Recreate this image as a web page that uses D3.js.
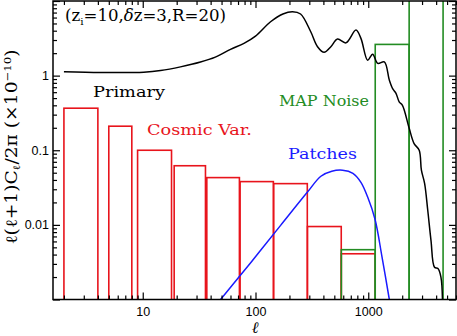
<!DOCTYPE html>
<html>
<head>
<meta charset="utf-8">
<script src="https://cdn.jsdelivr.net/npm/d3@7"></script>
<style>
  body { margin: 0; background: #fff; }
  svg { display: block; }
</style>
</head>
<body>
<div id="chart"></div>
<script>
// primary CMB spectrum (l, l(l+1)Cl/2pi in 1e-10)
var primaryL = [2, 4.2, 7.8, 10.2, 14.4, 21.6, 32.5, 44, 60, 79, 100, 136, 175, 213, 251, 309, 355, 406, 466, 534, 634, 778, 861, 988, 1094, 1213, 1388, 1538, 1645, 1762, 1880, 2010, 2300, 2550, 2830, 2960, 3160, 3370, 3600, 3870, 4150, 4410, 4550];
var primaryC = [1.13, 1.10, 1.10, 1.11, 1.17, 1.31, 1.52, 1.77, 2.25, 2.71, 3.39, 5.27, 6.7, 7.18, 6.69, 3.87, 2.44, 2.05, 2.44, 3.09, 2.75, 4.08, 3.16, 1.61, 1.94, 1.46, 1.53, 0.87, 0.67, 0.58, 0.445, 0.40, 0.20, 0.123, 0.10, 0.054, 0.036, 0.0157, 0.0062, 0.0027, 0.0026, 0.002, 0.001];

// patchy reionization signal
var patchL = [49, 91, 167, 289, 380, 475, 592, 731, 861, 988, 1148, 1325, 1538];
var patchC = [0.001, 0.00314, 0.00985, 0.0275, 0.0448, 0.0523, 0.054, 0.0491, 0.0372, 0.0236, 0.0119, 0.0037, 0.001];

// cosmic variance bins
var cvLo = [2, 5, 9, 19, 37, 73, 145, 289, 577];
var cvHi = [4, 8, 18, 36, 72, 144, 288, 576, 1152];
var cvTop = [0.366, 0.21, 0.1, 0.062, 0.043, 0.038, 0.0357, 0.0095, 0.0041];

// MAP noise bins
var noiseLo = [577, 1153, 2305];
var noiseHi = [1152, 2304, 4608];
var noiseTop = [0.00465, 2.62, 100];

var xLabels = [10, 100, 1000];
var yLabels = [0.01, 0.1, 1];

var svgWidth = 457, svgHeight = 336;
var margin = {top: 1, right: 1, bottom: 36.5, left: 53};
var pLeft = margin.left, pRight = svgWidth - margin.right;
var pTop = margin.top, pBottom = svgHeight - margin.bottom;

var red = '#e8141c', green = '#238c23', blue = '#1a1aff';

var svg = d3.select('#chart').append('svg')
    .attr('width', svgWidth)
    .attr('height', svgHeight);

var x = d3.scaleLog().domain([1.6, 6000]).range([pLeft, pRight]);
var y = d3.scaleLog().domain([0.001, 10]).range([pBottom, pTop]);

svg.append('clipPath').attr('id', 'clip')
  .append('rect').attr('x', pLeft).attr('y', pTop)
  .attr('width', pRight - pLeft).attr('height', pBottom - pTop);

var plot = svg.append('g').attr('clip-path', 'url(#clip)');

// tick values: every integer multiple inside each decade
function logTicks(lo, hi) {
    var out = [];
    for (var e = Math.floor(Math.log10(lo)); e <= Math.ceil(Math.log10(hi)); e++) {
        for (var m = 1; m < 10; m++) {
            var v = +(m * Math.pow(10, e)).toPrecision(6);
            if (v >= lo && v <= hi) out.push(v);
        }
    }
    return out;
}
function isMajor(v) { return Math.abs(Math.log10(v) - Math.round(Math.log10(v))) < 1e-6; }

var xt = logTicks(1.6, 6000), yt = logTicks(0.001, 10);

// shorten minor ticks, keep the direction d3 gave them
function styleAxis(g, horizontal) {
    g.select('.domain').remove();
    g.selectAll('.tick line').attr('stroke', '#000').attr('stroke-width', 1.2);
    g.selectAll('.tick').each(function(d) {
        var ln = d3.select(this).select('line');
        var attr = horizontal ? 'y2' : 'x2';
        var k = +ln.attr(attr);
        ln.attr(attr, Math.sign(k) * (isMajor(d) ? 7 : 4));
    });
    g.selectAll('.tick text').attr('fill', '#000');
}

var tickFont = '"Liberation Sans", Arial, sans-serif';

svg.append('g')
    .attr('transform', 'translate(0,' + pBottom + ')')
    .call(d3.axisBottom(x).tickValues(xt).tickSize(-7).tickPadding(8)
        .tickFormat(function(d) { return xLabels.indexOf(d) >= 0 ? d3.format('d')(d) : ''; }))
    .call(styleAxis, true)
    .selectAll('text').style('font', '12.5px ' + tickFont);

svg.append('g')
    .attr('transform', 'translate(0,' + pTop + ')')
    .call(d3.axisTop(x).tickValues(xt).tickSize(-7).tickFormat(''))
    .call(styleAxis, true);

svg.append('g')
    .attr('transform', 'translate(' + pLeft + ',0)')
    .call(d3.axisLeft(y).tickValues(yt).tickSize(-7).tickPadding(4)
        .tickFormat(function(d) { return yLabels.indexOf(d) >= 0 ? String(d) : ''; }))
    .call(styleAxis, false)
    .selectAll('text').style('font', '12.5px ' + tickFont);

svg.append('g')
    .attr('transform', 'translate(' + pRight + ',0)')
    .call(d3.axisRight(y).tickValues(yt).tickSize(-7).tickFormat(''))
    .call(styleAxis, false);

// cosmic variance boxes
plot.selectAll('rect.cv')
    .data(cvLo)
    .enter().append('rect')
    .attr('class', 'cv')
    .attr('x', function(d) { return x(d); })
    .attr('width', function(d, i) { return x(cvHi[i]) - x(d); })
    .attr('y', function(d, i) { return y(cvTop[i]); })
    .attr('height', function(d, i) { return pBottom + 2 - y(cvTop[i]); })
    .attr('fill', 'none').attr('stroke', red).attr('stroke-width', 1.6);

// MAP noise boxes
plot.selectAll('rect.noise')
    .data(noiseLo)
    .enter().append('rect')
    .attr('class', 'noise')
    .attr('x', function(d) { return x(d); })
    .attr('width', function(d, i) { return x(noiseHi[i]) - x(d); })
    .attr('y', function(d, i) { return y(noiseTop[i]); })
    .attr('height', function(d, i) { return pBottom + 2 - y(noiseTop[i]); })
    .attr('fill', 'none').attr('stroke', green).attr('stroke-width', 1.6);

var line = d3.line()
    .x(function(d) { return x(d[0]); })
    .y(function(d) { return y(d[1]); })
    .curve(d3.curveCatmullRom.alpha(0.5));

plot.append('path')
    .datum(patchL.map(function(l, i) { return [l, patchC[i]]; }))
    .attr('d', line)
    .attr('fill', 'none').attr('stroke', blue).attr('stroke-width', 1.5);

plot.append('path')
    .datum(primaryL.map(function(l, i) { return [l, primaryC[i]]; }))
    .attr('d', line)
    .attr('fill', 'none').attr('stroke', '#000').attr('stroke-width', 1.5);

// frame
svg.append('rect')
    .attr('x', pLeft).attr('y', pTop)
    .attr('width', pRight - pLeft).attr('height', pBottom - pTop)
    .attr('fill', 'none').attr('stroke', '#000').attr('stroke-width', 1.5);

// labels
var serif = '"DejaVu Serif", "Liberation Serif", serif';
function label(txt, px, py, col, len) {
    svg.append('text')
        .attr('x', px).attr('y', py)
        .attr('fill', col)
        .attr('textLength', len).attr('lengthAdjust', 'spacingAndGlyphs')
        .style('font', '15px ' + serif)
        .text(txt);
}
label('Primary', 93, 97, '#000', 72);
label('Cosmic Var.', 147, 135, red, 105);
label('MAP Noise', 279, 106, green, 90);
label('Patches', 288, 159, blue, 69);

var ttl = svg.append('text')
    .attr('x', 65).attr('y', 21)
    .attr('fill', '#000')
    .attr('textLength', 161).attr('lengthAdjust', 'spacingAndGlyphs')
    .style('font', '16px ' + serif);
ttl.append('tspan').text('(z');
ttl.append('tspan').attr('dy', 4).style('font-size', '10px').text('i');
ttl.append('tspan').attr('dy', -4).text('=10,');
ttl.append('tspan').style('font-style', 'italic').text('δ');
ttl.append('tspan').text('z=3,R=20)');

svg.append('text')
    .attr('x', 255).attr('y', 333)
    .attr('text-anchor', 'middle')
    .style('font', 'italic 16px ' + serif)
    .text('ℓ');

var yt2 = svg.append('text')
    .attr('transform', 'translate(17,147) rotate(-90)')
    .attr('text-anchor', 'middle')
    .attr('fill', '#000')
    .attr('textLength', 195).attr('lengthAdjust', 'spacingAndGlyphs')
    .style('font', '16px ' + serif);
yt2.append('tspan').text('ℓ(ℓ+1)C');
yt2.append('tspan').attr('dy', 3).style('font-size', '10px').text('ℓ');
yt2.append('tspan').attr('dy', -3).text('/2π  (×10');
yt2.append('tspan').attr('dy', -6).style('font-size', '10px').text('−10');
yt2.append('tspan').attr('dy', 6).text(')');
</script>
</body>
</html>
